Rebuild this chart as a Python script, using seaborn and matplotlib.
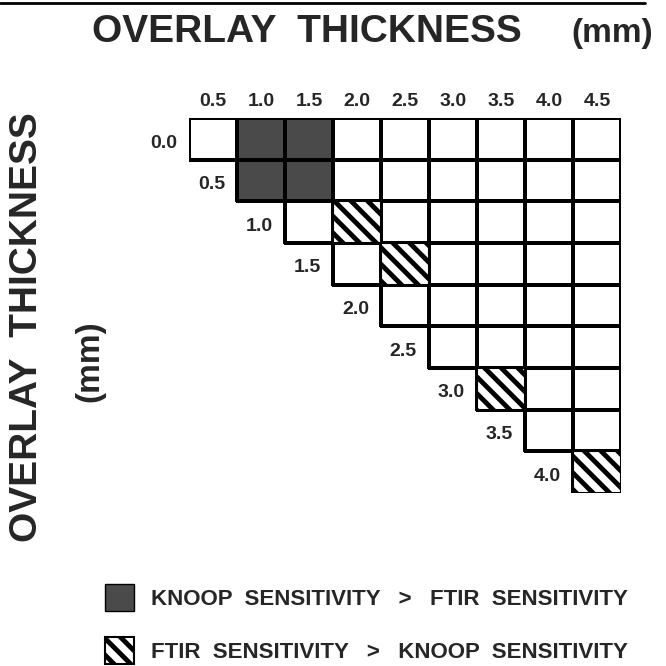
import numpy as np
import pandas as pd
import matplotlib
matplotlib.use('Agg')
import matplotlib.pyplot as plt
import seaborn as sns
from matplotlib.colors import ListedColormap
from matplotlib.patches import Rectangle, Patch
from matplotlib.lines import Line2D

# overlay thickness values (mm)
col_vals = [0.5, 1.0, 1.5, 2.0, 2.5, 3.0, 3.5, 4.0, 4.5]
row_vals = [0.0, 0.5, 1.0, 1.5, 2.0, 2.5, 3.0, 3.5, 4.0]
col_labels = ['0.5', '1.0', '1.5', '2.0', '2.5', '3.0', '3.5', '4.0', '4.5']
row_labels = ['0.0', '0.5', '1.0', '1.5', '2.0', '2.5', '3.0', '3.5', '4.0']

# cells where one method is more sensitive (row, column)
knoop_cells = [(0.0, 1.0), (0.0, 1.5), (0.5, 1.0), (0.5, 1.5)]
ftir_cells = [(1.0, 2.0), (1.5, 2.5), (3.0, 3.5), (4.0, 4.5)]

legend_labels = ['KNOOP  SENSITIVITY   >   FTIR  SENSITIVITY',
                 'FTIR  SENSITIVITY   >   KNOOP  SENSITIVITY']

sns.set_style('white')
plt.rcParams['font.family'] = ['Liberation Sans', 'DejaVu Sans']
plt.rcParams['font.weight'] = 'bold'
plt.rcParams['hatch.linewidth'] = 3.5

# grid: 0 = plain cell, 1 = knoop cell, NaN = no cell (lower triangle)
grid = pd.DataFrame(np.nan, index=row_vals, columns=col_vals)
for i, r in enumerate(row_vals):
    for j, c in enumerate(col_vals):
        if j >= i:
            grid.loc[r, c] = 0
for r, c in knoop_cells:
    grid.loc[r, c] = 1

fig = plt.figure(figsize=(6.66, 6.66), dpi=100)
ax = fig.add_axes([189 / 666, 1 - 493 / 666, 432 / 666, 375 / 666])

sns.heatmap(grid, ax=ax, cmap=ListedColormap(['white', '#4a4a4a']), vmin=0, vmax=1,
            cbar=False, linewidths=1.5, linecolor='black',
            xticklabels=col_labels, yticklabels=False)

# only outline the cells that exist
mesh = ax.collections[0]
present = ~np.isnan(grid.values).ravel()
ec = np.zeros((present.size, 4))
ec[present, 3] = 1.0
mesh.set_edgecolor(ec)

ax.xaxis.tick_top()
ax.tick_params(axis='x', length=0, pad=6, labelsize=14, rotation=0)
for t in ax.get_xticklabels():
    t.set_fontweight('bold')
ax.set_xlabel('')
ax.set_ylabel('')

# ftir cells: thick diagonal stripes
for r, c in ftir_cells:
    i = row_vals.index(r)
    j = col_vals.index(c)
    ax.add_patch(Rectangle((j, i), 1, 1, facecolor='white', edgecolor='black',
                           hatch='\\\\', lw=1.5, zorder=3))

# staggered row labels left of each row's first cell
for i, lab in enumerate(row_labels):
    ax.text(i - 0.25, i + 0.6, lab, ha='right', va='center',
            fontsize=14, fontweight='bold')

# titles
fig.text(92 / 666, 1 - 42 / 666, 'OVERLAY  THICKNESS', fontsize=28,
         fontweight='bold', ha='left', va='baseline')
fig.text(571 / 666, 1 - 42 / 666, '(mm)', fontsize=24,
         fontweight='bold', ha='left', va='baseline')
fig.text(27 / 666, 1 - 327 / 666, 'OVERLAY  THICKNESS', fontsize=28,
         fontweight='bold', rotation=90, ha='center', va='center')
fig.text(90 / 666, 1 - 361 / 666, '(mm)', fontsize=24,
         fontweight='bold', rotation=90, ha='center', va='center')

# top rule
fig.add_artist(Line2D([0, 645 / 666], [1 - 3 / 666, 1 - 3 / 666],
                      color='black', lw=2))

knoop_handle = Patch(facecolor='#4a4a4a', edgecolor='black', lw=1.0)
ftir_handle = Patch(facecolor='white', edgecolor='black', hatch='\\\\', lw=1.5)
fig.legend(handles=[knoop_handle, ftir_handle], labels=legend_labels,
           loc='upper left', bbox_to_anchor=(94 / 666, 1 - 573 / 666),
           frameon=False, borderpad=0, handlelength=1.3, handleheight=1.5,
           handletextpad=0.75, labelspacing=1.15,
           prop={'weight': 'bold', 'size': 16})

fig.savefig('out.png', dpi=100)
